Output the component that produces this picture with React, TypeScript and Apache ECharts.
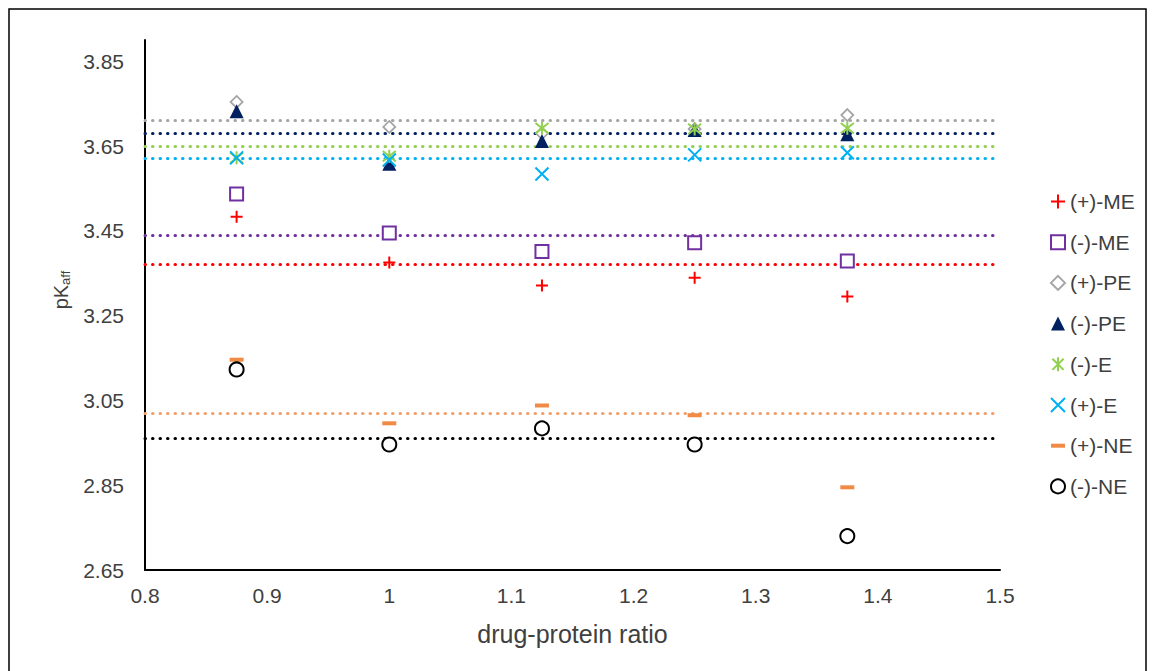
import React, { useEffect, useRef } from "react";
import * as echarts from "echarts";

const xValues = [0.875, 1, 1.125, 1.25, 1.375];
const plusME = [3.483, 3.375, 3.321, 3.339, 3.295];
const minusME = [3.537, 3.445, 3.401, 3.422, 3.379];
const plusPE = [3.754, 3.695, 3.68, 3.69, 3.723];
const minusPE = [3.732, 3.608, 3.662, 3.688, 3.678];
const minusE = [3.622, 3.626, 3.692, 3.69, 3.692];
const plusE = [3.622, 3.617, 3.584, 3.629, 3.634];
const plusNE = [3.146, 2.996, 3.038, 3.015, 2.845];
const minusNE = [3.123, 2.946, 2.984, 2.946, 2.73];

const seriesNames = ["(+)-ME", "(-)-ME", "(+)-PE", "(-)-PE", "(-)-E", "(+)-E", "(+)-NE", "(-)-NE"];
const meanValues = [3.368, 3.438, 3.709, 3.678, 3.655, 3.619, 3.017, 2.963];
const yTickLabels = ["2.65", "2.85", "3.05", "3.25", "3.45", "3.65", "3.85"];

export default function App() {
  const ref = useRef<HTMLDivElement>(null);
  useEffect(() => {
    if (!ref.current) return;
    const chart = echarts.init(ref.current, undefined, { renderer: "svg" });
    const values = [plusME, minusME, plusPE, minusPE, minusE, plusE, plusNE, minusNE];
    const styles: any[] = [
      { symbol: "path://M5,0L5,10M0,5L10,5", size: 12, color: "#FF0000", border: "#FF0000", bw: 2 },
      { symbol: "rect", size: 13, color: "#FFFFFF", border: "#7030A0", bw: 2 },
      { symbol: "diamond", size: 12, color: "#FFFFFF", border: "#A5A5A5", bw: 1.8 },
      { symbol: "triangle", size: 14, color: "#002060", border: "#002060", bw: 0 },
      { symbol: "path://M1,1L9,9M9,1L1,9M5,0L5,10", size: 13, color: "#92D050", border: "#92D050", bw: 2 },
      { symbol: "path://M0,0L10,10M10,0L0,10", size: 13, color: "#00B0F0", border: "#00B0F0", bw: 2 },
      { symbol: "rect", size: [14, 4], color: "#F08A45", border: "#F08A45", bw: 0 },
      { symbol: "circle", size: 14, color: "#FFFFFF", border: "#000000", bw: 2 },
    ];
    const lineColors = ["#FF0000", "#7030A0", "#A5A5A5", "#002060", "#92D050", "#00B0F0", "#F4A06A", "#000000"];

    const series = seriesNames.map((name, i) => ({
      name,
      type: "scatter",
      data: xValues.map((x, j) => [x, values[i][j]]),
      symbol: styles[i].symbol,
      symbolSize: styles[i].size,
      itemStyle: { color: styles[i].color, borderColor: styles[i].border, borderWidth: styles[i].bw, opacity: 1 },
      z: 3 + i,
      markLine: {
        silent: true,
        symbol: ["none", "none"],
        label: { show: false },
        lineStyle: { color: lineColors[i], type: [0.5, 7], width: 3, cap: "round" },
        emphasis: { disabled: true },
        data: [{ yAxis: meanValues[i] }],
        z: 2,
      },
    }));

    const legendData = seriesNames.map((name, i) =>
      i === 6 ? { name, icon: "path://M0,0L14,0L14,4L0,4Z" } : { name }
    );

    const txt = "#404040";
    chart.setOption({
      animation: false,
      backgroundColor: "#FFFFFF",
      textStyle: { fontFamily: "Liberation Sans, Arial, sans-serif" },
      grid: { left: 145, right: 152, top: 40, bottom: 101, containLabel: false },
      legend: {
        orient: "vertical",
        left: 1045,
        top: 186,
        padding: 5,
        itemWidth: 14,
        itemHeight: 14,
        itemGap: 19.7,
        selectedMode: false,
        data: legendData,
        textStyle: { fontSize: 21, color: txt, lineHeight: 21 },
      },
      xAxis: {
        type: "value",
        min: 0.8,
        max: 1.5,
        interval: 0.1,
        name: "drug-protein ratio",
        nameLocation: "middle",
        nameGap: 51,
        nameTextStyle: { fontSize: 25, color: txt },
        axisLine: { show: true, lineStyle: { color: "#000000", width: 2 } },
        axisTick: { show: false },
        splitLine: { show: false },
        axisLabel: { fontSize: 21, color: txt, margin: 15 },
      },
      yAxis: {
        type: "value",
        min: 2.65,
        max: 3.9,
        interval: 0.05,
        name: "{a|pK}{b|aff}",
        nameLocation: "middle",
        nameGap: 73,
        nameRotate: 90,
        nameTextStyle: {
          padding: [0, 0, 0, 30],
          rich: {
            a: { fontSize: 20, color: txt },
            b: { fontSize: 13, color: txt, padding: [9, 0, 0, 0] },
          },
        },
        axisLine: { show: true, lineStyle: { color: "#000000", width: 2 } },
        axisTick: { show: false },
        splitLine: { show: false },
        axisLabel: {
          fontSize: 21,
          color: txt,
          margin: 21,
          formatter: (v: number) => {
            const s = v.toFixed(2);
            return yTickLabels.indexOf(s) >= 0 ? s : "";
          },
        },
      },
      graphic: [
        {
          type: "rect",
          shape: { x: 9, y: 9, width: 1137, height: 700 },
          style: { fill: "none", stroke: "#000000", lineWidth: 1.5 },
          silent: true,
        },
      ],
      series,
    });
    return () => chart.dispose();
  }, []);
  return (
    <div
      ref={ref}
      style={{ position: "fixed", left: 0, top: 0, width: 1152, height: 671 }}
    />
  );
}
